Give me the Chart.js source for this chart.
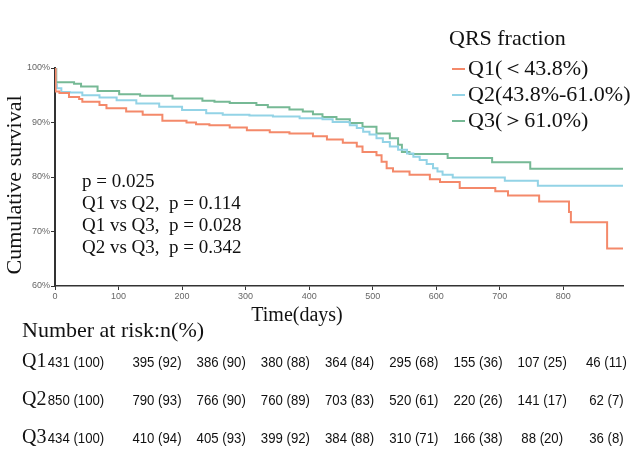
<!DOCTYPE html>
<html>
<head>
<meta charset="utf-8">
<script src="https://cdn.jsdelivr.net/npm/chart.js@4/dist/chart.umd.min.js"></script>
<style>
	html, body { margin: 0; padding: 0; background: #fff; }
	#wrap { position: relative; width: 638px; height: 458px; }
</style>
</head>
<body>
<div id="wrap"><canvas id="kmChart" width="638" height="458"></canvas></div>
<script>
'use strict';

// Kaplan-Meier steps: day of each drop, survival (%) after it
const q1Days = [0, 1, 7, 22, 38, 43, 70, 81, 112, 138, 169, 207, 222, 243, 275, 302, 338, 369, 406, 428, 453, 475, 484, 506, 514, 522, 532, 558, 590, 606, 637, 693, 713, 762, 809, 812, 869, 894];
const q1Surv = [100, 95.7, 95.4, 94.7, 94.3, 93.8, 93.2, 92.6, 92.0, 91.4, 90.3, 90.0, 89.7, 89.5, 89.1, 88.6, 88.2, 88.0, 87.5, 86.9, 86.3, 85.6, 84.6, 84.0, 82.8, 81.6, 81.0, 80.4, 79.6, 79.1, 78.0, 77.4, 76.6, 75.5, 73.6, 71.7, 66.9, 66.9];

const q2Days = [0, 1, 3, 10, 23, 43, 70, 97, 128, 164, 200, 238, 264, 306, 343, 385, 421, 437, 464, 475, 485, 495, 506, 516, 527, 540, 554, 564, 574, 585, 595, 602, 610, 626, 708, 760, 894];
const q2Surv = [100, 97.0, 96.3, 95.6, 95.5, 95.0, 94.6, 94.1, 93.5, 92.9, 92.3, 91.7, 91.4, 91.3, 91.1, 90.8, 90.6, 90.1, 89.5, 89.0, 88.3, 87.8, 87.1, 86.4, 85.6, 85.0, 84.3, 83.7, 83.1, 82.4, 81.6, 81.0, 80.4, 79.9, 79.3, 78.4, 78.4];

const q3Days = [0, 2, 30, 41, 67, 101, 134, 185, 232, 251, 275, 317, 335, 369, 390, 406, 421, 443, 464, 484, 506, 527, 540, 546, 558, 618, 688, 748, 894];
const q3Surv = [100, 97.4, 97.1, 96.6, 95.8, 95.2, 94.9, 94.4, 94.0, 93.8, 93.6, 93.2, 92.8, 92.4, 92.0, 91.5, 91.0, 90.6, 89.9, 89.2, 88.0, 87.1, 85.9, 84.6, 84.2, 83.5, 82.7, 81.5, 81.5];

const xTicks = [0, 100, 200, 300, 400, 500, 600, 700, 800];

const groupLabels = ['Q1(＜43.8%)', 'Q2(43.8%-61.0%)', 'Q3(＞61.0%)'];
const pValueLines = ['p = 0.025', 'Q1 vs Q2,  p = 0.114', 'Q1 vs Q3,  p = 0.028', 'Q2 vs Q3,  p = 0.342'];

// number at risk table
const riskRows = ['Q1', 'Q2', 'Q3'];
const riskQ1N = [431, 395, 386, 380, 364, 295, 155, 107, 46];
const riskQ1Pct = [100, 92, 90, 88, 84, 68, 36, 25, 11];
const riskQ2N = [850, 790, 766, 760, 703, 520, 220, 141, 62];
const riskQ2Pct = [100, 93, 90, 89, 83, 61, 26, 17, 7];
const riskQ3N = [434, 410, 405, 399, 384, 310, 166, 88, 36];
const riskQ3Pct = [100, 94, 93, 92, 88, 71, 38, 20, 8];

const colors = ['#f4896a', '#93d3e6', '#76b995'];
const serif = '"Liberation Serif", "Times New Roman", serif';

const toPoints = function (days, surv) {
	return days.map((d, i) => ({ x: d, y: surv[i] }));
};

const textPlugin = {
	id: 'kmText',
	afterDraw(chart) {
		const ctx = chart.ctx;
		ctx.save();
		ctx.fillStyle = '#111';

		// axis titles
		ctx.font = '22px ' + serif;
		ctx.textAlign = 'center';
		ctx.textBaseline = 'middle';
		ctx.save();
		ctx.translate(15, 185);
		ctx.rotate(-Math.PI / 2);
		ctx.fillText('Cumulative survival', 0, 0);
		ctx.restore();

		ctx.textBaseline = 'alphabetic';
		ctx.font = '20px ' + serif;
		ctx.fillText('Time(days)', 297, 321);

		// legend
		ctx.textAlign = 'left';
		ctx.font = '22px ' + serif;
		ctx.fillText('QRS fraction', 449, 45);
		groupLabels.forEach((lab, i) => {
			const base = 75 + i * 26;
			ctx.strokeStyle = colors[i];
			ctx.lineWidth = 2;
			ctx.beginPath();
			ctx.moveTo(452, base - 6);
			ctx.lineTo(465, base - 6);
			ctx.stroke();
			ctx.fillText(lab, 468, base);
		});

		// p values
		ctx.font = '19px ' + serif;
		pValueLines.forEach((t, i) => {
			ctx.fillText(t, 82, 187 + i * 22);
		});

		// risk table
		ctx.font = '22px ' + serif;
		ctx.fillText('Number at risk:n(%)', 22, 337);
		const nRows = [riskQ1N, riskQ2N, riskQ3N];
		const pRows = [riskQ1Pct, riskQ2Pct, riskQ3Pct];
		riskRows.forEach((r, i) => {
			const base = 367 + i * 38;
			ctx.textAlign = 'left';
			ctx.font = '20px ' + serif;
			ctx.fillText(r, 22, base);
			ctx.textAlign = 'center';
			ctx.font = '15px "Liberation Sans", Arial, sans-serif';
			nRows[i].forEach((n, j) => {
				const cx = j === 0 ? 76 : 157 + (j - 1) * 64.2;
				ctx.save();
				ctx.translate(cx, base);
				ctx.scale(0.88, 1);
				ctx.fillText(n + ' (' + pRows[i][j] + ')', 0, 0);
				ctx.restore();
			});
		});
		ctx.restore();
	},
};

const createKmChart = function () {
	const ctx = document.getElementById('kmChart');

	const data = {
		datasets: [
			{ label: groupLabels[0], data: toPoints(q1Days, q1Surv), borderColor: colors[0] },
			{ label: groupLabels[1], data: toPoints(q2Days, q2Surv), borderColor: colors[1] },
			{ label: groupLabels[2], data: toPoints(q3Days, q3Surv), borderColor: colors[2] },
		].map((d) => Object.assign(d, { stepped: true, borderWidth: 2, pointRadius: 0, fill: false })),
	};

	const tickFont = { family: '"Liberation Sans", Arial, sans-serif', size: 9 };

	const options = {
		responsive: false,
		animation: false,
		layout: { padding: { top: 68, right: 15, left: 0, bottom: 0 } },
		scales: {
			x: {
				type: 'linear',
				min: 0,
				max: 894,
				afterBuildTicks(scale) { scale.ticks = xTicks.map((v) => ({ value: v })); },
				ticks: { font: tickFont, color: '#666', padding: 1, maxRotation: 0, autoSkip: false },
				grid: { drawOnChartArea: false, tickLength: 4, color: '#333' },
				border: { color: '#333', width: 1.5 },
				afterFit(scale) { scale.height = 172; },
			},
			y: {
				min: 60,
				max: 100,
				ticks: { stepSize: 10, font: tickFont, color: '#666', padding: 1, callback: (v) => v + '%' },
				grid: { drawOnChartArea: false, tickLength: 4, color: '#333' },
				border: { color: '#333', width: 2 },
				afterFit(scale) { scale.width = 55; },
			},
		},
		plugins: {
			legend: { display: false },
			tooltip: { enabled: false },
		},
	};

	new Chart(ctx, {
		type: 'line',
		data: data,
		options: options,
		plugins: [textPlugin],
	});
};

document.addEventListener('DOMContentLoaded', createKmChart);
</script>
</body>
</html>
